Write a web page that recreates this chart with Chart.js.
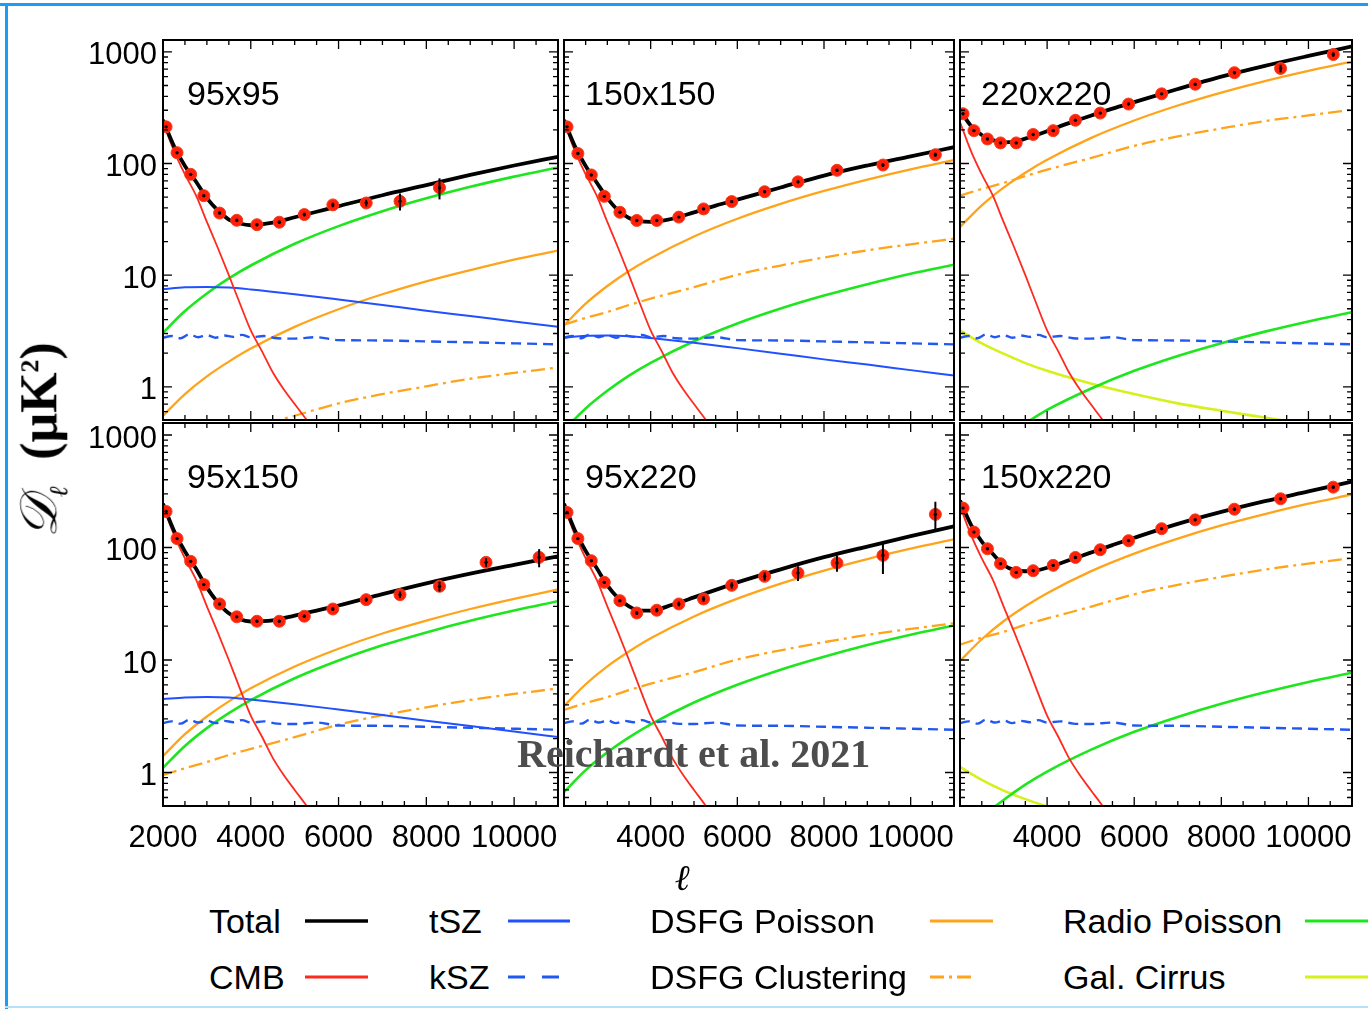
<!DOCTYPE html>
<html>
<head>
<meta charset="utf-8">
<script src="https://cdn.jsdelivr.net/npm/chart.js@4.4.0/dist/chart.umd.min.js"></script>
<style>
  body { margin: 0; background: #fff; }
  #page { position: relative; width: 1368px; height: 1009px; overflow: hidden; font-family: 'Liberation Sans', Arial, sans-serif; }
  #page canvas { position: absolute; }
  .lbl { position: absolute; font-size: 34px; line-height: 34px; color: #000; white-space: nowrap; }
  .bar { position: absolute; }
  #ytitle { position: absolute; left: 42px; top: 440px; transform: translate(-50%, -50%) rotate(-90deg);
            font-family: 'Liberation Serif', serif; font-weight: bold; font-size: 52px; white-space: nowrap; }
  #xtitle { position: absolute; left: 682px; top: 878px; transform: translate(-50%, -50%);
            font-family: 'DejaVu Serif', serif; font-style: italic; font-size: 36px; }
  #credit { position: absolute; left: 517px; top: 730px; font-family: 'Liberation Serif', serif; font-weight: bold;
            font-size: 40px; color: #4d4d4d; white-space: nowrap; }
</style>
</head>
<body>
<div id="page">
  <div class="bar" style="left:0;top:3px;width:1368px;height:3px;background:#1a9cf7"></div>
  <div class="bar" style="left:5px;top:3px;width:3px;height:1006px;background:#1a9cf7"></div>
  <div class="bar" style="left:5px;top:1006px;width:1363px;height:2px;background:#b8e0fa"></div>
</div>
<script>
// multipole grids
const ellLine = [2000, 2250, 2500, 2750, 3000, 3250, 3500, 3750, 4000, 4500, 5000, 5500, 6000, 7000, 8000, 9000, 10000, 11000];
const ellFg = [2000, 2500, 3000, 3500, 4000, 5000, 6000, 7000, 8000, 9000, 10000, 11000];
const ellCmb = [2000, 2250, 2500, 2750, 3000, 3250, 3500, 3750, 4000, 4250, 4500, 4750, 5000, 5250, 5500, 6000];
const ellKsz = [2000, 2200, 2400, 2600, 2800, 3000, 3200, 3400, 3600, 3800, 4000, 4300, 4600, 5000, 5500, 6000, 7000, 8000, 9000, 10000, 11000];
const ellBins = [2070, 2320, 2630, 2930, 3290, 3680, 4140, 4650, 5220, 5870, 6630, 7400, 8300, 9360, 10570];

// tick labels
const xTickValues = [2000, 4000, 6000, 8000, 10000];
const yTickValues = [1, 10, 100, 1000];

// same in every panel
const cmb = [235, 130, 80, 52, 30, 17.5, 10, 5.6, 3.2, 2.1, 1.35, 0.95, 0.7, 0.52, 0.38, 0.2];
const ksz = [2.75, 2.85, 2.72, 2.95, 2.78, 2.9, 2.75, 2.88, 2.8, 2.92, 2.78, 2.85, 2.72, 2.7, 2.78, 2.62, 2.6, 2.55, 2.5, 2.45, 2.4];

// 95x95
const pts95x95 = [213, 125, 80, 51.5, 36, 31, 28.3, 29.8, 34.9, 42.6, 44.3, 45.9, 60.7];
const err95x95 = [4, 2.5, 1.6, 1.1, 0.9, 0.8, 0.8, 1, 1.3, 2, 3, 8, 13];
const tot95x95 = [245, 143, 95, 69, 49, 38, 31.5, 29, 28, 29.5, 33, 37, 41.5, 52, 64, 79, 96, 115];
const tsz95x95 = [7.5, 7.8, 7.85, 7.75, 7.45, 6.75, 6.05, 5.4, 4.8, 4.3, 3.85, 3.45];
const dfp95x95 = [0.55, 0.86, 1.24, 1.68, 2.2, 3.44, 4.95, 6.74, 8.8, 11.1, 13.8, 16.6];
const dfc95x95 = [0.25, 0.29, 0.33, 0.38, 0.43, 0.55, 0.71, 0.86, 1.01, 1.18, 1.33, 1.49];
const rad95x95 = [3.05, 4.77, 6.86, 9.34, 12.2, 19.1, 27.5, 37.4, 48.8, 61.8, 76.3, 92.3];

// 150x150
const pts150x150 = [213, 123, 79, 50.8, 36.6, 30.9, 30.9, 33.1, 39.2, 45.6, 55.9, 68.5, 87, 97, 120];
const err150x150 = [3, 2, 1.2, 0.8, 0.6, 0.5, 0.5, 0.6, 0.8, 1, 1.3, 1.8, 2.5, 3.5, 5];
const tot150x150 = [245, 143, 95, 68, 49, 38, 32.5, 30.5, 30, 32, 36.5, 42, 47.5, 61, 78, 96, 116, 140];
const tsz150x150 = [2.75, 2.86, 2.88, 2.84, 2.73, 2.48, 2.22, 1.98, 1.76, 1.58, 1.41, 1.26];
const dfp150x150 = [3.55, 5.55, 7.99, 10.9, 14.2, 22.2, 32, 43.5, 56.8, 71.9, 88.8, 107.4];
const dfc150x150 = [3.6, 4.14, 4.68, 5.4, 6.16, 7.81, 10.1, 12.2, 14.4, 16.7, 18.9, 21.2];
const rad150x150 = [0.41, 0.64, 0.92, 1.26, 1.64, 2.56, 3.69, 5.02, 6.56, 8.3, 10.3, 12.4];

// 220x220
const pts220x220 = [279, 197, 166, 153, 153, 182, 197, 244, 283, 341, 421, 513, 651, 711, 947];
const err220x220 = [4, 3, 2.5, 2.5, 2.5, 3, 3.5, 4, 5, 6, 8, 11, 16, 55, 45];
const tot220x220 = [300, 218, 180, 162, 155, 157, 167, 180, 195, 230, 268, 310, 355, 465, 600, 750, 920, 1120];
const dfp220x220 = [27, 42.2, 60.8, 82.7, 108, 169, 243, 331, 432, 547, 675, 817];
const dfc220x220 = [51.5, 59.2, 67, 77.3, 88.1, 112, 144, 175, 206, 240, 270, 303];
const rad220x220 = [0.15, 0.24, 0.35, 0.47, 0.62, 0.96, 1.39, 1.89, 2.46, 3.12, 3.85, 4.66];
const cir220x220 = [3.2, 2.45, 1.98, 1.63, 1.39, 1.07, 0.86, 0.71, 0.61, 0.53, 0.46, 0.41];

// 95x150
const pts95x150 = [209, 120, 75.3, 46.8, 31.5, 24.2, 22.1, 22.1, 24.5, 28.4, 34.4, 38.1, 45.2, 73.8, 81.7];
const err95x150 = [3, 2, 1.2, 0.8, 0.6, 0.5, 0.5, 0.5, 0.7, 1, 1.5, 2.5, 4.5, 6.5, 15];
const tot95x150 = [245, 141, 92, 65, 44, 32.5, 26, 23, 22, 22.5, 24.8, 27.5, 30.5, 38.5, 48, 58.5, 70, 83.5];
const tsz95x150 = [4.5, 4.65, 4.7, 4.65, 4.45, 4.05, 3.63, 3.24, 2.88, 2.59, 2.31, 2.07];
const dfp95x150 = [1.4, 2.19, 3.15, 4.29, 5.6, 8.75, 12.6, 17.2, 22.4, 28.4, 35, 42.4];
const dfc95x150 = [0.95, 1.09, 1.24, 1.43, 1.62, 2.06, 2.66, 3.23, 3.8, 4.42, 4.99, 5.59];
const rad95x150 = [1.1, 1.72, 2.48, 3.37, 4.4, 6.88, 9.9, 13.5, 17.6, 22.3, 27.5, 33.3];

// 95x220
const pts95x220 = [205, 120, 76.3, 49, 33.7, 26.2, 27.7, 31.5, 34.9, 46.1, 55.4, 59.3, 72.8, 85.1, 197];
const err95x220 = [3, 2, 1.5, 1.2, 1, 1, 1.2, 1.5, 2, 3, 4.5, 9, 12, 27, 58];
const tot95x220 = [245, 142, 93, 66, 46, 35.5, 30, 27.5, 27.5, 31, 36, 42, 49, 64, 82, 102, 126, 154];
const dfp95x220 = [3.9, 6.09, 8.78, 11.9, 15.6, 24.4, 35.1, 47.8, 62.4, 79, 97.5, 118];
const dfc95x220 = [3.6, 4.14, 4.68, 5.4, 6.16, 7.81, 10.1, 12.2, 14.4, 16.7, 18.9, 21.2];
const rad95x220 = [0.67, 1.05, 1.51, 2.05, 2.68, 4.19, 6.03, 8.21, 10.7, 13.6, 16.8, 20.3];

// 150x220
const pts150x220 = [224, 137, 97.5, 71.8, 60.1, 62.2, 69.4, 81.6, 95.5, 115, 147, 176, 219, 271, 344];
const err150x220 = [4, 2.5, 1.8, 1.3, 1.1, 1.1, 1.3, 1.6, 2, 2.5, 3.5, 4.5, 6, 8, 11];
const tot150x220 = [262, 160, 113, 88, 70, 63, 61.5, 62.5, 66, 77, 90, 105, 122, 162, 207, 258, 315, 385];
const dfp150x220 = [9.8, 15.3, 22.1, 30, 39.2, 61.3, 88.2, 120, 157, 198, 245, 296];
const dfc150x220 = [13.7, 15.8, 17.8, 20.6, 23.4, 29.7, 38.4, 46.6, 54.8, 63.7, 71.9, 80.6];
const rad150x220 = [0.26, 0.4, 0.57, 0.78, 1.02, 1.59, 2.3, 3.12, 4.08, 5.16, 6.38, 7.71];
const cir150x220 = [1.12, 0.86, 0.69, 0.58, 0.5, 0.38, 0.31, 0.26, 0.22, 0.19, 0.17, 0.15];

const panels = [
  { name: '95x95', row: 0, col: 0, pts: pts95x95, err: err95x95, tot: tot95x95, tsz: tsz95x95, dfp: dfp95x95, dfc: dfc95x95, rad: rad95x95 },
  { name: '150x150', row: 0, col: 1, pts: pts150x150, err: err150x150, tot: tot150x150, tsz: tsz150x150, dfp: dfp150x150, dfc: dfc150x150, rad: rad150x150 },
  { name: '220x220', row: 0, col: 2, pts: pts220x220, err: err220x220, tot: tot220x220, dfp: dfp220x220, dfc: dfc220x220, rad: rad220x220, cir: cir220x220 },
  { name: '95x150', row: 1, col: 0, pts: pts95x150, err: err95x150, tot: tot95x150, tsz: tsz95x150, dfp: dfp95x150, dfc: dfc95x150, rad: rad95x150 },
  { name: '95x220', row: 1, col: 1, pts: pts95x220, err: err95x220, tot: tot95x220, dfp: dfp95x220, dfc: dfc95x220, rad: rad95x220 },
  { name: '150x220', row: 1, col: 2, pts: pts150x220, err: err150x220, tot: tot150x220, dfp: dfp150x220, dfc: dfc150x220, rad: rad150x220, cir: cir150x220 },
];

const colEdges = [[163, 561], [561, 957], [957, 1355]];
const rowEdges = [[40, 423], [423, 806]];

const colors = {
  total: '#000000', cmb: '#ff2a1f', tsz: '#2050ff', ksz: '#2258f2',
  dfp: '#ffa41a', dfc: '#ffa41a', rad: '#1ee61e', cir: '#d6f01c', pts: '#ff1e08'
};

const page = document.getElementById('page');
Chart.defaults.font.family = "'Liberation Sans', Arial, sans-serif";

function xy(xs, ys) {
  return ys.map((v, i) => ({ x: xs[i], y: v }));
}

// keep the plot box fixed: no extra room for overhanging tick labels
function noOverhang(s) {
  s.paddingLeft = 0; s.paddingRight = 0; s.paddingTop = 0; s.paddingBottom = 0;
}

// inward ticks on all four sides plus the box
const frameTicks = {
  id: 'frameTicks',
  afterDraw(chart) {
    const { ctx, chartArea: a, scales: { x, y } } = chart;
    ctx.save();
    ctx.strokeStyle = '#000';
    ctx.lineWidth = 1.3;
    ctx.beginPath();
    for (let v = 2000; v <= 11000; v += 500) {
      const px = x.getPixelForValue(v);
      const len = v % 2000 === 0 ? 9 : 5;
      ctx.moveTo(px, a.bottom); ctx.lineTo(px, a.bottom - len);
      ctx.moveTo(px, a.top); ctx.lineTo(px, a.top + len);
    }
    for (let e = -1; e <= 3; e++) {
      for (let m = 1; m < 10; m++) {
        const v = m * Math.pow(10, e);
        if (v < y.min || v > y.max) continue;
        const py = y.getPixelForValue(v);
        const len = m === 1 ? 9 : 5;
        ctx.moveTo(a.left, py); ctx.lineTo(a.left + len, py);
        ctx.moveTo(a.right, py); ctx.lineTo(a.right - len, py);
      }
    }
    ctx.stroke();
    ctx.lineWidth = 2;
    ctx.strokeRect(a.left, a.top, a.width, a.height);
    ctx.restore();
  }
};

// vertical error bars and the dot in the middle of each band power
const errorBars = {
  id: 'errorBars',
  afterDatasetsDraw(chart) {
    const { ctx, chartArea: a, scales: { x, y } } = chart;
    ctx.save();
    ctx.beginPath();
    ctx.rect(a.left, a.top, a.width, a.height);
    ctx.clip();
    chart.data.datasets.forEach(ds => {
      if (!ds.errors) return;
      ds.data.forEach((p, i) => {
        const e = ds.errors[i];
        const px = x.getPixelForValue(p.x);
        ctx.strokeStyle = '#000';
        ctx.lineWidth = 2;
        ctx.beginPath();
        ctx.moveTo(px, y.getPixelForValue(p.y + e));
        ctx.lineTo(px, y.getPixelForValue(Math.max(p.y - e, 0.01)));
        ctx.stroke();
        ctx.fillStyle = '#000';
        ctx.beginPath();
        ctx.arc(px, y.getPixelForValue(p.y), 1.7, 0, Math.PI * 2);
        ctx.fill();
      });
    });
    ctx.restore();
  }
};

function lineSet(label, data, color, width, dash) {
  return {
    label, data,
    borderColor: color,
    borderWidth: width,
    borderDash: dash || [],
    pointRadius: 0,
    fill: false,
    cubicInterpolationMode: 'monotone'
  };
}

panels.forEach(p => {
  const isLeft = p.col === 0;
  const isBottom = p.row === 1;
  const [fl, fr] = colEdges[p.col];
  const [ft, fb] = rowEdges[p.row];
  const padL = isLeft ? 0 : 4;
  const yW = isLeft ? 103 : 0;
  const xH = isBottom ? 52 : 0;
  const padB = isBottom ? 0 : 4;
  const left = fl - yW - padL;
  const top = ft - 20;
  const w = fr + 4 - left;
  const h = fb + xH + padB - top;
  const xTicks = isLeft ? xTickValues : xTickValues.filter(v => v !== 2000);

  const canvas = document.createElement('canvas');
  canvas.width = w; canvas.height = h;
  canvas.style.left = left + 'px'; canvas.style.top = top + 'px';
  canvas.style.width = w + 'px'; canvas.style.height = h + 'px';
  page.appendChild(canvas);

  const datasets = [
    {
      label: 'data', data: xy(ellBins, p.pts), errors: p.err, showLine: false,
      pointRadius: 6, pointBackgroundColor: colors.pts, pointBorderColor: '#f04020', pointBorderWidth: 1
    },
    lineSet('Total', xy(ellLine, p.tot), colors.total, 3.8),
    lineSet('CMB', xy(ellCmb, cmb), colors.cmb, 1.8),
  ];
  if (p.tsz) datasets.push(lineSet('tSZ', xy(ellFg, p.tsz), colors.tsz, 2));
  datasets.push(lineSet('kSZ', xy(ellKsz, ksz), colors.ksz, 2.4, [10, 6]));
  datasets.push(lineSet('DSFG Poisson', xy(ellFg, p.dfp), colors.dfp, 2.3));
  datasets.push(lineSet('DSFG Clustering', xy(ellFg, p.dfc), colors.dfc, 2.3, [14, 5, 3, 5]));
  datasets.push(lineSet('Radio Poisson', xy(ellFg, p.rad), colors.rad, 2.6));
  if (p.cir) datasets.push(lineSet('Gal. Cirrus', xy(ellFg, p.cir), colors.cir, 2.6));

  new Chart(canvas.getContext('2d'), {
    type: 'line',
    data: { datasets },
    options: {
      responsive: false,
      animation: false,
      devicePixelRatio: 1,
      layout: { padding: { left: padL, right: 4, top: 20, bottom: padB } },
      plugins: { legend: { display: false }, tooltip: { enabled: false } },
      scales: {
        x: {
          type: 'linear', min: 2000, max: 11000, display: isBottom,
          grid: { display: false, drawTicks: false }, border: { display: false },
          ticks: { autoSkip: false, maxRotation: 0, padding: 14, color: '#000', font: { size: 31 },
                   callback: v => String(v) },
          afterBuildTicks: s => { s.ticks = xTicks.map(v => ({ value: v })); },
          afterFit: s => { s.height = xH; noOverhang(s); }
        },
        y: {
          type: 'logarithmic', min: 0.504, max: 1278, display: isLeft,
          grid: { display: false, drawTicks: false }, border: { display: false },
          ticks: { autoSkip: false, padding: 6, labelOffset: 4, color: '#000', font: { size: 31 },
                   callback: v => String(v) },
          afterBuildTicks: s => { s.ticks = yTickValues.map(v => ({ value: v })); },
          afterFit: s => { s.width = yW; noOverhang(s); }
        }
      }
    },
    plugins: [errorBars, frameTicks]
  });

  const lbl = document.createElement('div');
  lbl.className = 'lbl';
  lbl.textContent = p.name;
  lbl.style.left = (fl + 24) + 'px';
  lbl.style.top = (ft + 36) + 'px';
  page.appendChild(lbl);
});

// axis titles and credit
page.insertAdjacentHTML('beforeend',
  '<div id="ytitle"><span style="font-weight:normal;font-style:italic">𝒟</span><sub style="font-size:26px;font-style:italic">ℓ</sub>&nbsp;&nbsp;(μK<sup style="font-size:26px">2</sup>)</div>' +
  '<div id="xtitle">ℓ</div>' +
  '<div id="credit">Reichardt et al. 2021</div>');

// legend, two rows of four
const legendLabels = ['Total', 'tSZ', 'DSFG Poisson', 'Radio Poisson', 'CMB', 'kSZ', 'DSFG Clustering', 'Gal. Cirrus'];
const legendColors = [colors.total, colors.tsz, colors.dfp, colors.rad, colors.cmb, colors.ksz, colors.dfc, colors.cir];
const legendDash = ['', '', '', '', '', '17 17', '14 5 3 5 14', ''];
const legendTextX = [209, 429, 650, 1063];
const legendLineX = [[305, 368], [508, 570], [930, 993], [1305, 1368]];
const legendRowY = [921, 977];

legendLabels.forEach((t, i) => {
  const c = i % 4, r = Math.floor(i / 4);
  const d = document.createElement('div');
  d.className = 'lbl';
  d.textContent = t;
  d.style.left = legendTextX[c] + 'px';
  d.style.top = (legendRowY[r] - 17) + 'px';
  page.appendChild(d);
  const [x0, x1] = legendLineX[c];
  const len = (c === 1 && r === 1) || (c === 2 && r === 1) ? x1 - x0 - 8 : x1 - x0;
  const sw = i === 0 ? 3.5 : 3;
  page.insertAdjacentHTML('beforeend',
    `<svg style="position:absolute;left:${x0}px;top:${legendRowY[r] - 4}px" width="${len}" height="8">` +
    `<line x1="0" y1="4" x2="${len}" y2="4" stroke="${legendColors[i]}" stroke-width="${sw}" stroke-dasharray="${legendDash[i]}"/></svg>`);
});
</script>
</body>
</html>
